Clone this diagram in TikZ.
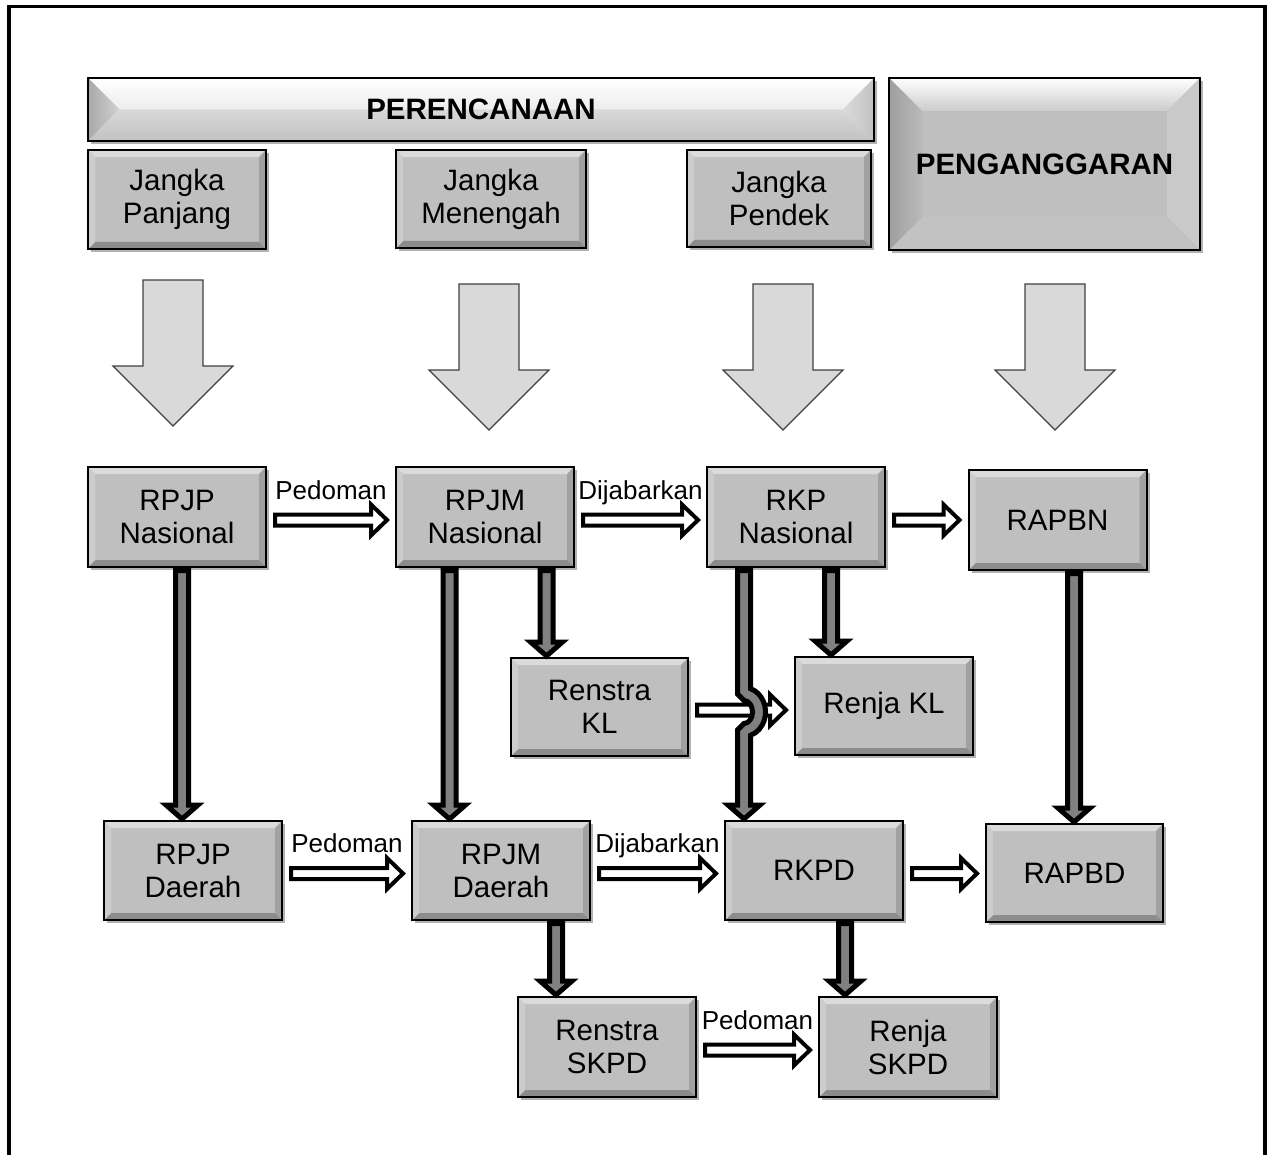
\documentclass[tikz,border=0pt]{standalone}
\usepackage{fontspec}
\setmainfont{Liberation Sans}
\usetikzlibrary{shadows,calc}
\newcommand\mainfs{\fontsize{14.75}{16.5}\selectfont}
\newcommand\lblfs{\fontsize{13}{15}\selectfont}
\def\bevw{3.5pt}
\newcommand\bevfill[4]{%
 \coordinate (pNW) at (path picture bounding box.north west);
 \coordinate (pSE) at (path picture bounding box.south east);
 \coordinate (pNE) at (pNW -| pSE);
 \coordinate (pSW) at (pSE -| pNW);
 \path[#1] (pNW) -- (pNE) -- ([shift={(-\bevw,-\bevw)}]pNE) -- ([shift={(\bevw,-\bevw)}]pNW) -- cycle;
 \path[#2] (pNE) -- (pSE) -- ([shift={(-\bevw,\bevw)}]pSE) -- ([shift={(-\bevw,-\bevw)}]pNE) -- cycle;
 \path[#3] (pSE) -- (pSW) -- ([shift={(\bevw,\bevw)}]pSW) -- ([shift={(-\bevw,\bevw)}]pSE) -- cycle;
 \path[#4] (pSW) -- (pNW) -- ([shift={(\bevw,-\bevw)}]pNW) -- ([shift={(\bevw,\bevw)}]pSW) -- cycle;
}
\begin{document}
\begin{tikzpicture}[x=0.5pt,y=-0.5pt,
 bev/.code={\def\bevw{#1}},
 bevbox/.style={draw=black, line width=1pt, fill=black!25, inner sep=0pt, align=center, font=\mainfs,
   minimum width=89pt, minimum height=50pt,
   drop shadow={shadow xshift=1.5pt, shadow yshift=-1.5pt, opacity=.3, fill=black},
   path picture={\bevfill{fill=black!14}{fill=black!37}{fill=black!45}{fill=black!20}}},
 lbl/.style={font=\lblfs, anchor=base, yshift=9pt, inner sep=0pt},
 bigarrow/.style={draw=black!75, line width=0.6pt, fill=black!15, line join=miter},
 dark/.style={draw=black, fill=black!50, line width=2.5pt, line join=miter,
   to path={let \p1=(\tikztostart), \p2=(\tikztotarget) in
     (\x1-3.25pt,\y1-1.25pt) -- (\x1+3.25pt,\y1-1.25pt) -- (\x1+3.25pt,\y2+7.5pt) -- (\x1+8pt,\y2+7.5pt)
     -- (\x1,\y2+0.5pt) -- (\x1-8pt,\y2+7.5pt) -- (\x1-3.25pt,\y2+7.5pt) -- cycle}},
 hollow/.style={draw=black, fill=white, line width=2pt, line join=miter,
   to path={let \p1=(\tikztostart), \p2=(\tikztotarget) in
     (\x1+4pt,\y1+2.75pt) -- (\x2-12pt,\y1+2.75pt) -- (\x2-12pt,\y1+7.75pt) -- (\x2-4pt,\y1)
     -- (\x2-12pt,\y1-7.75pt) -- (\x2-12pt,\y1-2.75pt) -- (\x1+4pt,\y1-2.75pt) -- cycle}}
]
\useasboundingbox (0,0) rectangle (1273,1155);
% outer frame
\draw[line width=1.75pt] (9,1155) -- (9,6.7) -- (1265,6.7) -- (1265,1155);

% headers
\node[bevbox, bev=15.75pt, minimum width=393pt, minimum height=31.5pt, fill=white,
  path picture={\bevfill{top color=white, bottom color=black!7}{left color=black!14, right color=black!24}{top color=black!15, bottom color=black!24}{left color=black!34, right color=black!18}},
  font=\mainfs\bfseries] (PER) at (481,109.5) {PERENCANAAN};
\node[bevbox, bev=16.5pt, minimum width=155.5pt, minimum height=86pt,
  path picture={\bevfill{top color=white, bottom color=black!20}{fill=black!21}{fill=black!24}{left color=black!38, right color=black!27}},
  font=\mainfs\bfseries] (PEN) at (1044.5,164) {PENGANGGARAN};
\node[bevbox, minimum height=49.5pt] (JP) at (177,199.5) {Jangka\\Panjang};
\node[bevbox, minimum width=95pt, minimum height=49pt] (JM) at (491,199) {Jangka\\Menengah};
\node[bevbox, minimum width=92pt, minimum height=48.5pt] (JD) at (779,198.5) {Jangka\\Pendek};

% big arrows
\foreach \cx/\ty in {173/280, 489/284, 783/284, 1055/284}{
  \draw[bigarrow] (\cx-30,\ty) -- (\cx+30,\ty) -- (\cx+30,\ty+86) -- (\cx+60,\ty+86) -- (\cx,\ty+146)
     -- (\cx-60,\ty+86) -- (\cx-30,\ty+86) -- cycle;
}

% boxes
\node[bevbox] (RPJPN) at (177,517) {RPJP\\Nasional};
\node[bevbox] (RPJMN) at (485,517) {RPJM\\Nasional};
\node[bevbox] (RKPN) at (796,517) {RKP\\Nasional};
\node[bevbox] (RAPBN) at (1057.5,520) {RAPBN};
\node[bevbox, minimum width=88.5pt, minimum height=49pt] (RKL) at (599.5,707) {Renstra\\KL};
\node[bevbox, minimum height=49pt] (RJKL) at (884,706) {Renja KL};
\node[bevbox, minimum height=49.5pt] (RPJPD) at (193,870.5) {RPJP\\Daerah};
\node[bevbox, minimum height=49.5pt] (RPJMD) at (501,870.5) {RPJM\\Daerah};
\node[bevbox, minimum height=49.5pt] (RKPD) at (814,870.5) {RKPD};
\node[bevbox, minimum width=88.5pt, minimum height=49pt] (RAPBD) at (1074.5,873) {RAPBD};
\node[bevbox] (RSKPD) at (607,1047) {Renstra\\SKPD};
\node[bevbox] (RJSKPD) at (908,1047) {Renja\\SKPD};

% column coordinates
\coordinate (c1) at (182,0);
\coordinate (c2) at (449.5,0);
\coordinate (c3) at (546.5,0);
\coordinate (c4) at (744,0);
\coordinate (c5) at (831,0);
\coordinate (c6) at (1074,0);
\coordinate (c7) at (556,0);
\coordinate (c8) at (845,0);
\coordinate (hopc) at (744,712);

% hollow arrows
\draw[hollow] ([yshift=-1.5pt]RPJPN.east) to (RPJMN.west);
\draw[hollow] ([yshift=-1.5pt]RPJMN.east) to (RKPN.west);
\draw[hollow] ([yshift=-1.5pt]RKPN.east) to (RAPBN.west);
\draw[hollow] ([yshift=-1.5pt]RKL.east) to (RJKL.west);
\draw[hollow] ([yshift=-1.5pt]RPJPD.east) to (RPJMD.west);
\draw[hollow] ([yshift=-1.5pt]RPJMD.east) to (RKPD.west);
\draw[hollow] ([yshift=-1.5pt]RKPD.east) to (RAPBD.west);
\draw[hollow] ([yshift=-1.5pt]RSKPD.east) to (RJSKPD.west);

% labels
\node[lbl] (L1) at ($(RPJPN.east)!.5!(RPJMN.west)$) {Pedoman};
\node[lbl] (L2) at ($(RPJMN.east)!.5!(RKPN.west)$) {Dijabarkan};
\node[lbl] (L3) at ($(RPJPD.east)!.5!(RPJMD.west)$) {Pedoman};
\node[lbl] (L4) at ($(RPJMD.east)!.5!(RKPD.west)$) {Dijabarkan};
\node[lbl] (L5) at ($(RSKPD.east)!.5!(RJSKPD.west)$) {Pedoman};

% dark arrows
\draw[dark] (RPJPN.south -| c1) to (RPJPD.north -| c1);
\draw[dark] (RPJMN.south -| c2) to (RPJMD.north -| c2);
\draw[dark] (RPJMN.south -| c3) to (RKL.north -| c3);
\draw[dark] (RKPN.south -| c5) to (RJKL.north -| c5);
\draw[dark] (RAPBN.south -| c6) to (RAPBD.north -| c6);
\draw[dark] (RPJMD.south -| c7) to (RSKPD.north -| c7);
\draw[dark] (RKPD.south -| c8) to (RJSKPD.north -| c8);
% hop arrow RKP Nasional -> RKPD
\draw[draw=black, fill=black!50, line width=2.5pt, line join=miter]
  let \p1=(RKPN.south -| c4), \p2=(RKPD.north -| c4), \p3=(hopc) in
  (\x1-3.25pt,\y1-1.25pt) -- (\x1+3.25pt,\y1-1.25pt) -- (\x1+3.25pt,\y3+11.68pt)
  arc[start angle=72.4, end angle=-72.4, x radius=10.75pt, y radius=12.25pt]
  -- (\x1+3.25pt,\y2+7.5pt) -- (\x1+8pt,\y2+7.5pt) -- (\x1,\y2+0.5pt) -- (\x1-8pt,\y2+7.5pt)
  -- (\x1-3.25pt,\y2+7.5pt) -- (\x1-3.25pt,\y3-9pt) -- (\x1,\y3-5.75pt)
  arc[start angle=-90, end angle=90, x radius=4.25pt, y radius=5.75pt]
  -- (\x1-3.25pt,\y3+9pt) -- cycle;
\end{tikzpicture}
\end{document}
